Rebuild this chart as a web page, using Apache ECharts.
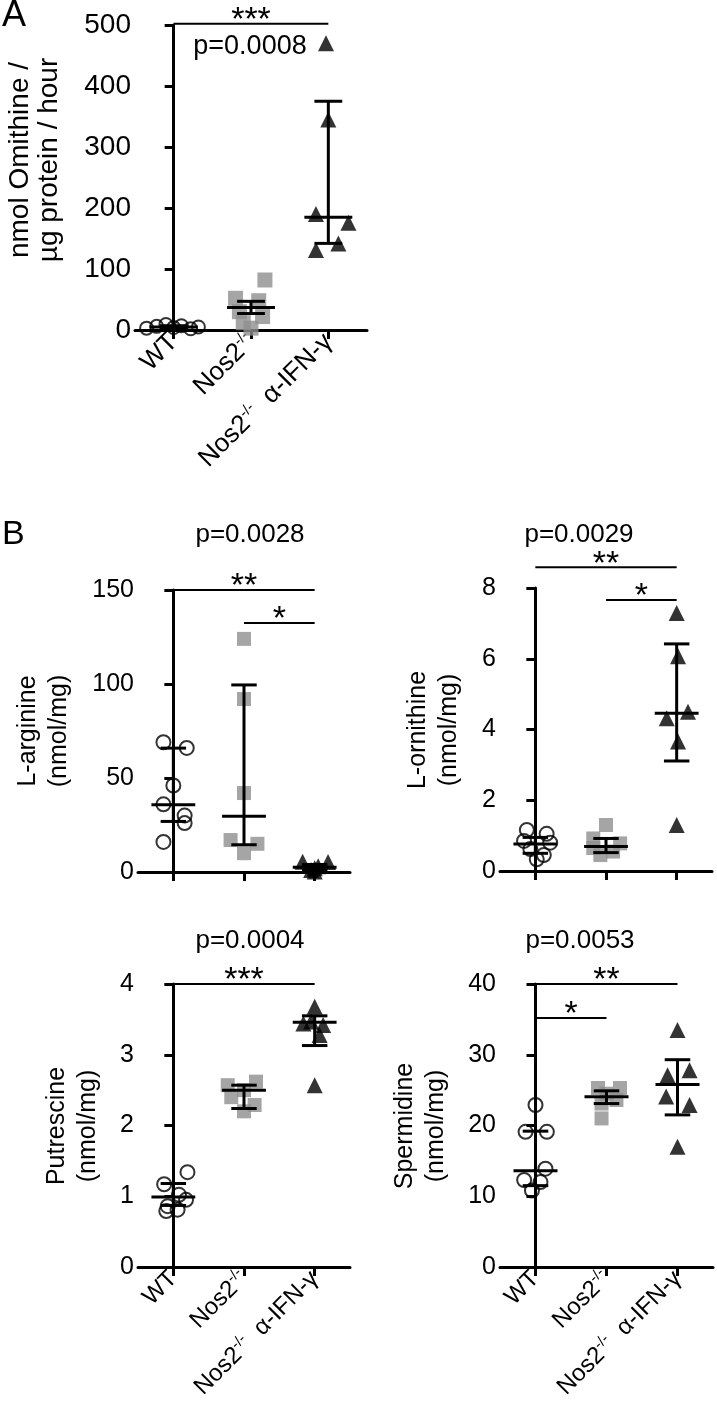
<!DOCTYPE html>
<html>
<head>
<meta charset="utf-8">
<script src="https://cdn.jsdelivr.net/npm/echarts/dist/echarts.min.js"></script>
<style>
html,body{margin:0;padding:0;background:#fff;}
#c{width:717px;height:1418px;}
</style>
</head>
<body>
<div id="c"></div>
<script>
// ---------- shared ----------
const categories = ['WT', 'Nos2-/-', 'Nos2-/- α-IFN-γ'];
const categoryRich = ['WT', '{n|Nos2}{s|-/-}', '{n|Nos2}{s|-/-}{n|  α-IFN-γ}'];

// ---------- Panel A : nmol Ornithine / µg protein / hour ----------
const A_WT = [3, 6, 9, 4, 7, 2, 5];
const A_WT_dx = [-0.35, -0.22, -0.1, 0, 0.1, 0.22, 0.32];
const A_NOS = [82, 52, 48, 30, 22, 12, 3];
const A_NOS_dx = [0.18, -0.2, 0.1, -0.15, 0.15, -0.1, 0];
const A_IFN = [470, 345, 190, 176, 142, 131];
const A_IFN_dx = [-0.03, 0, -0.16, 0.26, 0.13, -0.16];
const A_CENTER = [5, 37, 185];
const A_LOW = [3, 27, 142];
const A_HIGH = [7, 47, 375];
const A_TICKS = [0, 100, 200, 300, 400, 500];
const A_SIG = [[0, 2, 502, '***']];
const A_P = 'p=0.0008';
const A_NAME = 'nmol Omithine /\nµg protein / hour';

// ---------- Panel B1 : L-arginine ----------
const ARG_WT = [69, 66, 46, 36, 30, 26, 16];
const ARG_WT_dx = [-0.14, 0.19, 0, -0.14, 0.16, 0.16, -0.14];
const ARG_NOS = [124, 92, 42, 17, 15, 10];
const ARG_NOS_dx = [0, 0, 0, -0.19, 0.19, 0];
const ARG_IFN = [5.5, 5.3, 3, 2, 1, 0.2];
const ARG_IFN_dx = [-0.17, 0.19, 0.05, 0, -0.05, 0];
const ARG_CENTER = [35.8, 29.6, 2.5];
const ARG_LOW = [26.9, 14.5, 1];
const ARG_HIGH = [65.9, 99.5, 4];
const ARG_TICKS = [0, 50, 100, 150];
const ARG_SIG = [[0, 2, 150, '**'], [1, 2, 132.4, '*']];
const ARG_P = 'p=0.0028';
const ARG_NAME = 'L-arginine\n(nmol/mg)';

// ---------- Panel B2 : L-ornithine ----------
const ORN_WT = [1.16, 1.05, 0.85, 0.8, 0.62, 0.45, 0.33];
const ORN_WT_dx = [-0.12, 0.16, -0.16, 0.21, -0.07, 0.12, 0.02];
const ORN_NOS = [1.3, 0.92, 0.78, 0.65, 0.55, 0.45];
const ORN_NOS_dx = [0, -0.18, 0.2, -0.18, 0.1, -0.08];
const ORN_IFN = [7.29, 6.07, 4.5, 4.32, 3.66, 1.3];
const ORN_IFN_dx = [0, 0.02, 0.16, -0.14, 0.02, 0];
const ORN_CENTER = [0.76, 0.69, 4.46];
const ORN_LOW = [0.5, 0.52, 3.11];
const ORN_HIGH = [0.95, 0.92, 6.42];
const ORN_TICKS = [0, 2, 4, 6, 8];
const ORN_SIG = [[0, 2, 8.59, '**'], [1, 2, 7.66, '*']];
const ORN_P = 'p=0.0029';
const ORN_NAME = 'L-ornithine\n(nmol/mg)';

// ---------- Panel B3 : Putrescine ----------
const PUT_WT = [1.34, 1.17, 1.02, 0.95, 0.86, 0.81, 0.79];
const PUT_WT_dx = [0.2, -0.13, 0.08, 0.18, -0.08, 0.06, -0.1];
const PUT_NOS = [2.62, 2.57, 2.5, 2.4, 2.29, 2.2];
const PUT_NOS_dx = [0.17, -0.23, 0, -0.18, 0.15, 0];
const PUT_IFN = [3.68, 3.47, 3.44, 3.42, 3.28, 2.57];
const PUT_IFN_dx = [0, -0.05, -0.16, 0.12, 0.07, 0];
const PUT_CENTER = [0.99, 2.5, 3.46];
const PUT_LOW = [0.87, 2.24, 3.13];
const PUT_HIGH = [1.18, 2.57, 3.55];
const PUT_TICKS = [0, 1, 2, 3, 4];
const PUT_SIG = [[0, 2, 4, '***']];
const PUT_P = 'p=0.0004';
const PUT_NAME = 'Putrescine\n(nmol/mg)';

// ---------- Panel B4 : Spermidine ----------
const SPD_WT = [22.9, 19.1, 19.1, 13.9, 12.3, 12, 10.8];
const SPD_WT_dx = [0, -0.14, 0.16, 0.14, -0.16, 0.07, -0.05];
const SPD_NOS = [25.3, 25.3, 24.5, 23.6, 23.1, 21];
const SPD_NOS_dx = [-0.12, 0.19, 0, 0.14, -0.07, -0.07];
const SPD_IFN = [33.5, 27.8, 27.1, 24.1, 22.9, 17];
const SPD_IFN_dx = [0, 0.17, -0.14, -0.16, 0.17, 0];
const SPD_CENTER = [13.6, 24.06, 25.8];
const SPD_LOW = [11.5, 23.1, 21.5];
const SPD_HIGH = [19.2, 24.9, 29.3];
const SPD_TICKS = [0, 10, 20, 30, 40];
const SPD_SIG = [[0, 2, 40, '**'], [0, 1, 35.2, '*']];
const SPD_P = 'p=0.0053';
const SPD_NAME = 'Spermidine\n(nmol/mg)';

// ---------- layout / style ----------
const FF = '"Liberation Sans", Arial, Helvetica, sans-serif';
const GREY = '#8e8e8e';

const panels = [
  {grid:{left:135, top:25, width:232, height:305}, ticks:A_TICKS,
   groups:[[A_WT, A_WT_dx],[A_NOS, A_NOS_dx],[A_IFN, A_IFN_dx]],
   center:A_CENTER, low:A_LOW, high:A_HIGH, sig:A_SIG, showX:true, fs:28, xfs:26, sym:[13, 15, 16]},
  {grid:{left:138, top:590, width:212, height:282}, ticks:ARG_TICKS,
   groups:[[ARG_WT, ARG_WT_dx],[ARG_NOS, ARG_NOS_dx],[ARG_IFN, ARG_IFN_dx]],
   center:ARG_CENTER, low:ARG_LOW, high:ARG_HIGH, sig:ARG_SIG, showX:false, fs:25, xfs:24, sym:[14, 14, 16]},
  {grid:{left:500, top:588, width:212, height:283}, ticks:ORN_TICKS,
   groups:[[ORN_WT, ORN_WT_dx],[ORN_NOS, ORN_NOS_dx],[ORN_IFN, ORN_IFN_dx]],
   center:ORN_CENTER, low:ORN_LOW, high:ORN_HIGH, sig:ORN_SIG, showX:false, fs:25, xfs:24, sym:[14, 14, 16]},
  {grid:{left:138, top:984, width:212, height:283}, ticks:PUT_TICKS,
   groups:[[PUT_WT, PUT_WT_dx],[PUT_NOS, PUT_NOS_dx],[PUT_IFN, PUT_IFN_dx]],
   center:PUT_CENTER, low:PUT_LOW, high:PUT_HIGH, sig:PUT_SIG, showX:true, fs:25, xfs:24, sym:[14, 14, 16]},
  {grid:{left:500, top:984, width:213, height:283}, ticks:SPD_TICKS,
   groups:[[SPD_WT, SPD_WT_dx],[SPD_NOS, SPD_NOS_dx],[SPD_IFN, SPD_IFN_dx]],
   center:SPD_CENTER, low:SPD_LOW, high:SPD_HIGH, sig:SPD_SIG, showX:true, fs:25, xfs:24, sym:[14, 14, 16]}
];

const symbolStyles = [
  {symbol:'circle', itemStyle:{color:'rgba(255,255,255,0)', borderColor:'#000', borderWidth:2}},
  {symbol:'rect', itemStyle:{color:GREY}},
  {symbol:'triangle', itemStyle:{color:'#000'}}
];

const grids = [], xAxes = [], yAxes = [], series = [];

panels.forEach((p, gi) => {
  grids.push(Object.assign({containLabel:false}, p.grid));
  xAxes.push({
    type:'category', gridIndex:gi, data:categories, boundaryGap:true,
    axisLine:{show:true, lineStyle:{color:'#000', width:3}},
    axisTick:{show:true, alignWithLabel:true, length:9, lineStyle:{color:'#000', width:3}},
    splitLine:{show:false},
    axisLabel:{
      show:p.showX, interval:0, rotate:45, margin:8, hideOverlap:false,
      formatter:(v, i) => categoryRich[i],
      rich:{
        n:{fontSize:p.xfs, fontFamily:FF, color:'#000', lineHeight:28},
        s:{fontSize:15, fontFamily:FF, color:'#000', verticalAlign:'top', lineHeight:15}
      },
      fontFamily:FF, fontSize:p.xfs, color:'#000'
    }
  });
  xAxes.push({type:'value', gridIndex:gi, min:-0.5, max:2.5, show:false});
  const t = p.ticks;
  yAxes.push({
    type:'value', gridIndex:gi, min:t[0], max:t[t.length - 1], interval:t[1] - t[0],
    axisLine:{show:true, lineStyle:{color:'#000', width:3}},
    axisTick:{show:true, length:9, lineStyle:{color:'#000', width:3}},
    splitLine:{show:false},
    axisLabel:{fontFamily:FF, fontSize:p.fs, color:'#000', margin:4}
  });
  const xi = gi * 2 + 1;
  p.groups.forEach((g, k) => {
    const vals = g[0], dx = g[1];
    series.push(Object.assign({
      type:'scatter', xAxisIndex:xi, yAxisIndex:gi, symbolSize:p.sym[k],
      data:vals.map((v, j) => [k + dx[j], v]),
      silent:true, z:2
    }, JSON.parse(JSON.stringify(symbolStyles[k]))));
  });
  // error bars (central line with range)
  series.push({
    type:'custom', xAxisIndex:xi, yAxisIndex:gi, silent:true, z:3, clip:false,
    data:p.center.map((c, k) => [k, c, p.low[k], p.high[k]]),
    encode:{x:0, y:[1, 2, 3]},
    renderItem:(params, api) => {
      const x = api.value(0);
      const pc = api.coord([x, api.value(1)]);
      const pl = api.coord([x, api.value(2)]);
      const ph = api.coord([x, api.value(3)]);
      const bw = api.size([1, 0])[0];
      const hw = bw * 0.31, hc = bw * 0.18;
      const st = {stroke:'#000', lineWidth:3};
      return {type:'group', children:[
        {type:'line', shape:{x1:ph[0], y1:ph[1], x2:pl[0], y2:pl[1]}, style:st},
        {type:'line', shape:{x1:pc[0] - hw, y1:pc[1], x2:pc[0] + hw, y2:pc[1]}, style:st},
        {type:'line', shape:{x1:ph[0] - hc, y1:ph[1], x2:ph[0] + hc, y2:ph[1]}, style:st},
        {type:'line', shape:{x1:pl[0] - hc, y1:pl[1], x2:pl[0] + hc, y2:pl[1]}, style:st}
      ]};
    }
  });
  // significance brackets
  const sig = p.sig;
  series.push({
    type:'custom', xAxisIndex:xi, yAxisIndex:gi, silent:true, z:4, clip:false,
    data:sig.map(s => [s[0], s[2], s[1]]),
    encode:{x:0, y:1},
    renderItem:(params, api) => {
      const s = sig[params.dataIndex];
      const p1 = api.coord([s[0], s[2]]), p2 = api.coord([s[1], s[2]]);
      return {type:'group', children:[
        {type:'line', shape:{x1:p1[0], y1:p1[1], x2:p2[0], y2:p2[1]}, style:{stroke:'#000', lineWidth:2}},
        {type:'text', x:(p1[0] + p2[0]) / 2, y:p1[1] - 3,
         style:{text:s[3], font:'34px ' + FF, fill:'#000',
                align:'center', verticalAlign:'middle', textAlign:'center', textVerticalAlign:'middle'}}
      ]};
    }
  });
});

function txt(text, x, y, size, rot, lh) {
  const el = {type:'text', x:x, y:y, silent:true,
    style:{text:text, font:size + 'px ' + FF, fill:'#000',
           align:'center', verticalAlign:'middle', textAlign:'center', textVerticalAlign:'middle'}};
  if (lh) el.style.lineHeight = lh;
  if (rot) el.rotation = rot;
  return el;
}

const graphic = [
  {type:'text', x:2, y:16, silent:true, style:{text:'A', font:'36px ' + FF, fill:'#000', align:'left', verticalAlign:'middle', textAlign:'left', textVerticalAlign:'middle'}},
  {type:'text', x:2, y:535, silent:true, style:{text:'B', font:'34px ' + FF, fill:'#000', align:'left', verticalAlign:'middle', textAlign:'left', textVerticalAlign:'middle'}},
  txt(A_NAME, 35, 160, 28, Math.PI / 2, 29),
  txt(ARG_NAME, 44, 731, 25, Math.PI / 2, 31),
  txt(ORN_NAME, 434, 730, 25, Math.PI / 2, 31),
  txt(PUT_NAME, 73, 1126, 25, Math.PI / 2, 31),
  txt(SPD_NAME, 421, 1126, 25, Math.PI / 2, 31),
  txt(A_P, 250, 47, 27),
  txt(ARG_P, 250, 535, 26),
  txt(ORN_P, 579, 535, 26),
  txt(PUT_P, 250, 941, 26),
  txt(SPD_P, 580, 941, 26)
];

const chart = echarts.init(document.getElementById('c'), null, {renderer:'canvas'});
chart.setOption({
  animation:false,
  backgroundColor:'#fff',
  textStyle:{fontFamily:FF},
  grid:grids, xAxis:xAxes, yAxis:yAxes, series:series, graphic:graphic
});
</script>
</body>
</html>
